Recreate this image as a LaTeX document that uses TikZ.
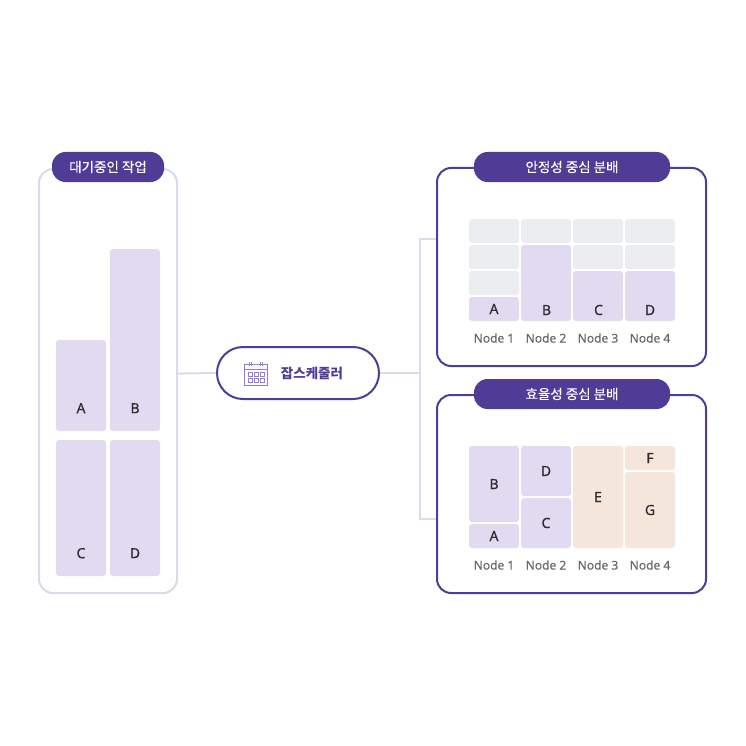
\documentclass[tikz,border=0pt]{standalone}
\usepackage{fontspec}
\setmainfont{Noto Sans}
\newfontfamily\krfont[FakeBold=0.3]{Noto Sans CJK KR}
\newfontfamily\krbold{Noto Sans CJK KR}
\newfontfamily\medfont[FakeBold=0.6]{Noto Sans}
\newfontfamily\lightfont[FakeBold=0.2]{Noto Sans}
\usepackage{tikz}
\usetikzlibrary{positioning,calc}
\usepackage{xcolor}
\definecolor{deeppurple}{RGB}{80,60,150}
\definecolor{softline}{RGB}{220,218,232}
\definecolor{jobfill}{RGB}{225,218,240}
\definecolor{freefill}{RGB}{236,237,240}
\definecolor{extrafill}{RGB}{244,230,219}
\definecolor{iconpurple}{RGB}{150,120,225}
\definecolor{inktext}{RGB}{45,45,50}
\definecolor{greytext}{RGB}{105,105,110}

\begin{document}
\begin{tikzpicture}[x=1pt, y=-1pt,
    panel/.style={rounded corners=14pt, line width=2pt, fill=white},
    tag/.style={draw=none, fill=deeppurple, rounded corners=13.5pt, minimum height=30pt, inner sep=0pt,
                text=white, font=\krfont\fontsize{13.5}{13.5}\selectfont},
    letter/.style={text=inktext, font=\medfont\fontsize{14}{14}\selectfont},
    cell/.style={rounded corners=3pt, inner sep=0pt, minimum width=50pt, letter},
    job/.style={cell, fill=jobfill},
    extra/.style={cell, fill=extrafill},
    free/.style={cell, fill=freefill, minimum height=24pt},
    nodename/.style={inner sep=0pt, text=greytext, font=\lightfont\fontsize{12}{12}\selectfont},
    link/.style={draw=softline, line width=2pt},
    cal/.style={draw=iconpurple, line width=1pt},
    calcell/.style={draw=iconpurple, line width=0.75pt}]
\useasboundingbox (0,0) rectangle (746,746);
% left panel
\draw[panel, draw=softline] (39,169) rectangle (177,593);
\node[tag, minimum width=112pt] (waiting) at (108,167) {대기중인 작업};
\node[job, minimum height=91pt] (lefta) at (81,385.5) {};
\node[job, minimum height=182pt] (leftb) at (135,340) {};
\node[job, minimum height=136pt] (leftc) at (81,508) {};
\node[job, minimum height=136pt] (leftd) at (135,508) {};
\foreach \n/\t in {lefta/A,leftb/B,leftc/C,leftd/D}
    \node[inner sep=0pt, letter] (\n t) at ($(\n.south)+(0,-23)$) {\t};
% top panel
\draw[panel, draw=deeppurple] (437,168) rectangle (706,366);
\node[tag, minimum width=196pt] (stable) at (572,167) {안정성 중심 분배};
\foreach \x/\y in {494/231,494/257,494/283,546/231,598/231,598/257,650/231,650/257}
    \node[free] (free\x\y) at (\x,\y) {};
\node[job, minimum height=24pt] (topa) at (494,309) {A};
\node[job, minimum height=76pt] (topb) at (546,283) {};
\node[job, minimum height=50pt] (topc) at (598,296) {};
\node[job, minimum height=50pt] (topd) at (650,296) {};
\node[inner sep=0pt, letter] (topbt) at (546.5,310) {B};
\node[inner sep=0pt, letter] (topct) at (598.5,310) {C};
\node[inner sep=0pt, letter] (topdt) at (650,310) {D};
% bottom panel
\draw[panel, draw=deeppurple] (437,395) rectangle (706,593);
\node[tag, minimum width=196pt] (efficient) at (572,394) {효율성 중심 분배};
\node[job, minimum height=76pt] (botb) at (494,484) {B};
\node[job, minimum height=24pt] (bota) at (494,536) {A};
\node[job, minimum height=50pt] (botd) at (546,471) {D};
\node[job, minimum height=50pt] (botc) at (546,523) {C};
\node[extra, minimum height=102pt] (bote) at (598,497) {E};
\node[extra, minimum height=24pt] (botf) at (650,458) {F};
\node[extra, minimum height=76pt] (botg) at (650,510) {G};
\foreach \x/\i in {494/1,546/2,598/3,650/4} {
    \node[nodename] (topname\i) at (\x,338) {Node \i};
    \node[nodename] (botname\i) at (\x,565) {Node \i};
}
% connectors
\coordinate (fork) at (420,373);
\coordinate (forktop) at (420,239);
\coordinate (forkbot) at (420,519);
\coordinate (leftedge) at (178,373.6);
\coordinate (topedge) at (436,239);
\coordinate (botedge) at (436,519);
% scheduler
\node[draw=deeppurple, line width=2pt, rounded corners=26pt, fill=white, minimum width=162pt, minimum height=52pt,
      inner sep=0pt] (sched) at (298,373) {};
\node[inner sep=0pt, text=deeppurple, font=\krbold\bfseries\fontsize{13.5}{13.5}\selectfont] (schedtext) at (312,373) {잡스케줄러};
% calendar icon
\draw[cal] (244.5,364) rectangle (267.5,385);
\draw[cal] (244.5,369) -- (267.5,369);
\draw[cal] (249.5,362) -- (249.5,366) (251.5,362) -- (251.5,366) (260.5,362) -- (260.5,366) (262.5,362) -- (262.5,366);
\foreach \x in {248,254,260}
    \foreach \y in {372,378}
        \draw[calcell] (\x,\y) rectangle ++(4.5,4);
\draw[link] (leftedge) -- (sched.west);
\draw[link] (sched.east) -- (fork);
\draw[link] (topedge) -- (forktop) -- (forkbot) -- (botedge);
\end{tikzpicture}
\end{document}
